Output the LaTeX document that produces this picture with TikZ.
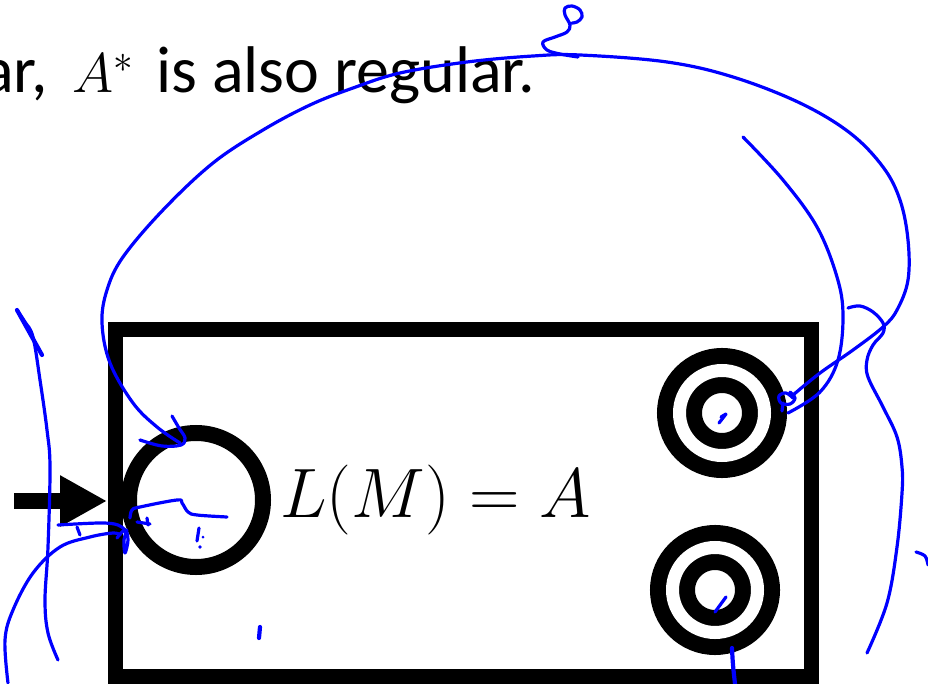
\RequirePackage{fix-cm}
\documentclass[tikz,border=0pt]{standalone}
\usepackage[no-math]{fontspec}
\setmainfont{Carlito}
\usetikzlibrary{arrows.meta}
\definecolor{inkblue}{RGB}{0,0,255}
\tikzset{
  ink/.style={draw=inkblue, line width=3.2pt, line cap=round, line join=round},
  inkthick/.style={ink, line width=4.2pt},
  startstate/.style={circle, draw=black, line width=16pt, inner sep=0pt, minimum size=134pt},
  acceptstate/.style={circle, draw=black, line width=16pt, double=white, double distance=13pt, inner sep=0pt, minimum size=85pt},
  machinebox/.style={rectangle, draw=black, line width=15pt, inner sep=0pt, minimum width=695.5pt, minimum height=347pt},
  bigtext/.style={anchor=base west, inner sep=0pt, font=\fontsize{66}{74}\selectfont},
}
\begin{document}
\begin{tikzpicture}[x=1pt,y=-1pt]
\useasboundingbox (0,0) rectangle (928,684);
\fill[white] (0,0) rectangle (928,684);

% title text
\node[bigtext] (t1) at (-18,93) {ar,};
\node[anchor=base west, inner sep=0pt, font=\fontsize{56}{64}\selectfont] (t2) at (72,93) {$A^{*}$};
\node[bigtext] (t3) at (156,93) {is also regular.};

% machine
\node[machinebox] (machine) at (463.25,502.5) {};
\node[startstate] (q0) at (196,500) {};
\node[acceptstate] (f1) at (722,413) {};
\node[acceptstate] (f2) at (715,590) {};
\node[anchor=base west, inner sep=0pt, font=\fontsize{70}{84}\selectfont] (lang) at (280,517) {$L(M)=A$};

% entry arrow
\coordinate (entry) at (14,501);
\coordinate (entrytip) at (107,501);
\draw[line width=16pt, -{Triangle[length=47pt,width=48pt]}] (entry) -- (entrytip);

% blue ink
\draw[ink] plot[smooth, tension=0.6] coordinates {(180,443) (157,427) (133,403) (110,363) (102,323) (107,290) (123,257) (163,210) (213,163) (263,130) (310,105) (353,88) (400,73) (467,62) (533,56) (580,55) (667,62) (733,77) (800,103) (850,133) (883,167) (900,200) (908,240) (908,280) (897,310) (883,327) (853,350) (820,373) (793,395)};
\draw[ink] plot[smooth, tension=0.6] coordinates {(172,416) (179,428) (185,438) (181,445) (162,446) (140,440)};
\draw[ink] plot[smooth, tension=0.6] coordinates {(793,398) (786,393) (779,396) (781,403) (790,404) (795,398) (790,392)};
\draw[ink] (783,403) -- (782,411);
\draw[ink] plot[smooth, tension=0.6] coordinates {(743,137) (783,180) (817,227) (837,277) (843,315) (838,360) (820,392) (788,413)};
\draw[ink] plot[smooth, tension=0.6] coordinates {(848,308) (860,306) (873,312) (883,323) (883,333) (873,345) (867,360) (868,377) (883,407) (897,437) (902,467) (902,493) (897,547) (887,603) (867,653)};
\draw[ink] plot[smooth, tension=0.6] coordinates {(916,552) (925,556) (928,565)};
\draw[inkthick] plot[smooth, tension=0.6] coordinates {(732,648) (733,665) (735,684)};
\draw[ink] (719,423) -- (726,414) -- (721,417);
\draw[ink] (715,612) -- (726,597);
\draw[ink] plot[smooth, tension=0.6] coordinates {(58,660) (48,633) (45,600) (48,547) (50,467) (47,430) (40,380) (33,337) (25,322) (17,310)};
\draw[inkthick] (17,310) -- (42,355);
\draw[ink] plot[smooth, tension=0.6] coordinates {(8,683) (5,640) (13,610) (33,573) (60,547) (90,537) (113,533) (120,535)};
\draw[ink] plot[smooth, tension=0.6] coordinates {(117,538) (125,530) (128,540) (125,553) (124,540) (127,530)};
\draw[ink] plot[smooth, tension=0.6] coordinates {(58,525) (100,523) (118,525) (127,532)};
\draw[ink] (77,527) -- (80,535);
\draw[ink] plot[smooth, tension=0.6] coordinates {(130,518) (132,510) (140,507) (177,500) (182,503) (188,512) (197,515) (227,517)};
\draw[ink] (137,522) -- (150,524);
\draw[ink] (147,518) -- (148,525);
\draw[ink] (199,528) -- (197,541);
\fill[inkblue] (200,547) circle (1.8);
\fill[inkblue] (203,537) circle (1.5);
\draw[inkthick] (260,627) -- (259,638);
\draw[ink] plot[smooth, tension=0.6] coordinates {(578,57) (560,54) (547,50) (543,42) (555,37) (567,32) (570,25) (565,15) (565,8) (572,6) (580,10) (582,17) (577,22) (572,23)};
\end{tikzpicture}
\end{document}
